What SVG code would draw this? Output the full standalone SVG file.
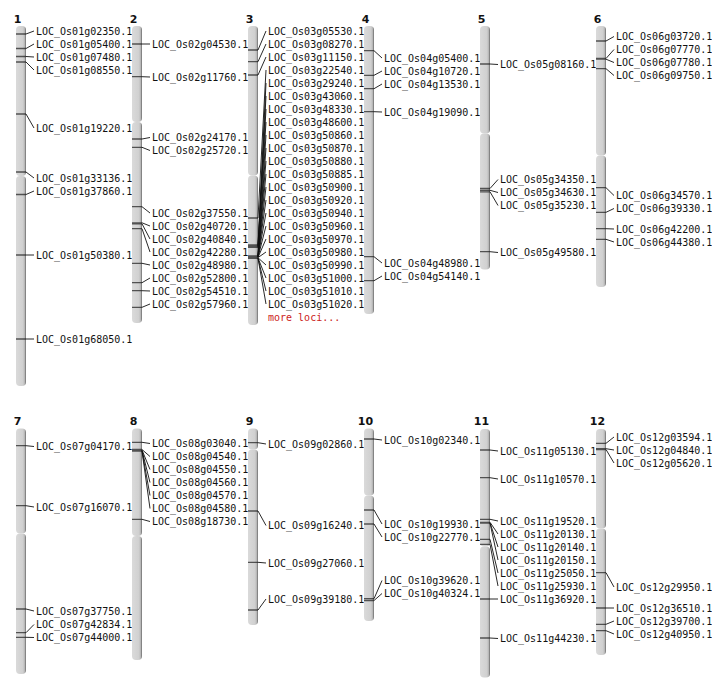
<svg xmlns="http://www.w3.org/2000/svg" width="712" height="700" viewBox="0 0 712 700">
<defs>
<linearGradient id="g" x1="0" y1="0" x2="1" y2="0">
<stop offset="0" stop-color="#dadada"/>
<stop offset="0.7" stop-color="#d0d0d0"/>
<stop offset="0.85" stop-color="#b8b8b8"/>
<stop offset="1" stop-color="#6a6a6a"/>
</linearGradient>
</defs>
<style>
.arm{fill:url(#g)}
.tick{fill:none;stroke:#1a1a1a;stroke-opacity:0.7;stroke-width:1.3}
.conn{fill:none;stroke:#111;stroke-width:0.9}
.lab{font-family:"DejaVu Sans Mono","Liberation Mono",monospace;font-size:10px;fill:#111}
.num{font-family:"DejaVu Sans","Liberation Sans",sans-serif;font-size:11px;font-weight:bold;fill:#111;text-anchor:middle}
.more{font-family:"DejaVu Sans Mono","Liberation Mono",monospace;font-size:10px;fill:#cc2222}
</style>
<rect width="712" height="700" fill="#fff"/>

<g id="chr1">
<rect class="arm" x="16" y="26" width="10" height="150" rx="4"/>
<rect class="arm" x="16" y="176" width="10" height="210" rx="4"/>
<text class="num" x="17.5" y="22.5">1</text>
<path class="tick" d="M16 34H26M16 48.5H26M16 56.5H26M16 62H26M16 114H26M16 172H26M16 194.5H26M16 255H26M16 339H26"/>
<text class="lab" x="36" y="34.6">LOC_Os01g02350.1</text>
<text class="lab" x="36" y="47.6">LOC_Os01g05400.1</text>
<text class="lab" x="36" y="60.6">LOC_Os01g07480.1</text>
<text class="lab" x="36" y="73.6">LOC_Os01g08550.1</text>
<text class="lab" x="36" y="131.6">LOC_Os01g19220.1</text>
<text class="lab" x="36" y="181.6">LOC_Os01g33136.1</text>
<text class="lab" x="36" y="194.6">LOC_Os01g37860.1</text>
<text class="lab" x="36" y="258.6">LOC_Os01g50380.1</text>
<text class="lab" x="36" y="342.6">LOC_Os01g68050.1</text>
</g>

<g id="chr2">
<rect class="arm" x="132" y="26" width="10" height="96" rx="4"/>
<rect class="arm" x="132" y="122" width="10" height="201" rx="4"/>
<text class="num" x="133.5" y="22.5">2</text>
<path class="tick" d="M132 44H142M132 76.7H142M132 139H142M132 147.3H142M132 206.7H142M132 222.8H142M132 223.8H142M132 228.7H142M132 263.3H142M132 282.7H142M132 290.7H142M132 307.3H142"/>
<text class="lab" x="152" y="47.6">LOC_Os02g04530.1</text>
<text class="lab" x="152" y="80.6">LOC_Os02g11760.1</text>
<text class="lab" x="152" y="141.1">LOC_Os02g24170.1</text>
<text class="lab" x="152" y="154.1">LOC_Os02g25720.1</text>
<text class="lab" x="152" y="216.6">LOC_Os02g37550.1</text>
<text class="lab" x="152" y="229.6">LOC_Os02g40720.1</text>
<text class="lab" x="152" y="242.6">LOC_Os02g40840.1</text>
<text class="lab" x="152" y="255.6">LOC_Os02g42280.1</text>
<text class="lab" x="152" y="268.6">LOC_Os02g48980.1</text>
<text class="lab" x="152" y="281.6">LOC_Os02g52800.1</text>
<text class="lab" x="152" y="294.6">LOC_Os02g54510.1</text>
<text class="lab" x="152" y="307.6">LOC_Os02g57960.1</text>
</g>

<g id="chr3">
<rect class="arm" x="248" y="26" width="10" height="149.5" rx="4"/>
<rect class="arm" x="248" y="175.5" width="10" height="149.5" rx="4"/>
<text class="num" x="249.5" y="22.5">3</text>
<path class="tick" d="M248 50H258M248 61.7H258M248 75H258M248 218H258M248 245H258M248 245.8H258M248 246.6H258M248 247.4H258M248 255.8H258M248 256H258M248 256.2H258M248 256.4H258M248 256.6H258M248 256.8H258M248 257H258M248 257.2H258M248 257.4H258M248 257.6H258M248 257.8H258M248 258H258M248 258.2H258M248 258.4H258"/>
<text class="lab" x="268" y="34.6">LOC_Os03g05530.1</text>
<text class="lab" x="268" y="47.6">LOC_Os03g08270.1</text>
<text class="lab" x="268" y="60.6">LOC_Os03g11150.1</text>
<text class="lab" x="268" y="73.6">LOC_Os03g22540.1</text>
<text class="lab" x="268" y="86.6">LOC_Os03g29240.1</text>
<text class="lab" x="268" y="99.6">LOC_Os03g43060.1</text>
<text class="lab" x="268" y="112.6">LOC_Os03g48330.1</text>
<text class="lab" x="268" y="125.6">LOC_Os03g48600.1</text>
<text class="lab" x="268" y="138.6">LOC_Os03g50860.1</text>
<text class="lab" x="268" y="151.6">LOC_Os03g50870.1</text>
<text class="lab" x="268" y="164.6">LOC_Os03g50880.1</text>
<text class="lab" x="268" y="177.6">LOC_Os03g50885.1</text>
<text class="lab" x="268" y="190.6">LOC_Os03g50900.1</text>
<text class="lab" x="268" y="203.6">LOC_Os03g50920.1</text>
<text class="lab" x="268" y="216.6">LOC_Os03g50940.1</text>
<text class="lab" x="268" y="229.6">LOC_Os03g50960.1</text>
<text class="lab" x="268" y="242.6">LOC_Os03g50970.1</text>
<text class="lab" x="268" y="255.6">LOC_Os03g50980.1</text>
<text class="lab" x="268" y="268.6">LOC_Os03g50990.1</text>
<text class="lab" x="268" y="281.6">LOC_Os03g51000.1</text>
<text class="lab" x="268" y="294.6">LOC_Os03g51010.1</text>
<text class="lab" x="268" y="307.6">LOC_Os03g51020.1</text>
<text class="more" x="268" y="320.6">more loci...</text>
</g>

<g id="chr4">
<rect class="arm" x="364" y="26" width="10" height="288" rx="4"/>
<text class="num" x="365.5" y="22.5">4</text>
<path class="tick" d="M364 50.7H374M364 75.3H374M364 88.7H374M364 111.7H374M364 256.7H374M364 280.7H374"/>
<text class="lab" x="384" y="61.6">LOC_Os04g05400.1</text>
<text class="lab" x="384" y="74.6">LOC_Os04g10720.1</text>
<text class="lab" x="384" y="87.6">LOC_Os04g13530.1</text>
<text class="lab" x="384" y="115.6">LOC_Os04g19090.1</text>
<text class="lab" x="384" y="266.6">LOC_Os04g48980.1</text>
<text class="lab" x="384" y="279.6">LOC_Os04g54140.1</text>
</g>

<g id="chr5">
<rect class="arm" x="480" y="26" width="10" height="107.5" rx="4"/>
<rect class="arm" x="480" y="133.5" width="10" height="136" rx="4"/>
<text class="num" x="481.5" y="22.5">5</text>
<path class="tick" d="M480 64H490M480 188.5H490M480 190.3H490M480 191.8H490M480 251.7H490"/>
<text class="lab" x="500" y="68.1">LOC_Os05g08160.1</text>
<text class="lab" x="500" y="183.1">LOC_Os05g34350.1</text>
<text class="lab" x="500" y="196.1">LOC_Os05g34630.1</text>
<text class="lab" x="500" y="209.1">LOC_Os05g35230.1</text>
<text class="lab" x="500" y="256.1">LOC_Os05g49580.1</text>
</g>

<g id="chr6">
<rect class="arm" x="596" y="26" width="10" height="129.5" rx="4"/>
<rect class="arm" x="596" y="155.5" width="10" height="131.5" rx="4"/>
<text class="num" x="597.5" y="22.5">6</text>
<path class="tick" d="M596 41H606M596 58.5H606M596 59.2H606M596 68.7H606M596 187.7H606M596 212.3H606M596 228.7H606M596 239.3H606"/>
<text class="lab" x="616" y="40.1">LOC_Os06g03720.1</text>
<text class="lab" x="616" y="53.1">LOC_Os06g07770.1</text>
<text class="lab" x="616" y="66.1">LOC_Os06g07780.1</text>
<text class="lab" x="616" y="79.1">LOC_Os06g09750.1</text>
<text class="lab" x="616" y="199.1">LOC_Os06g34570.1</text>
<text class="lab" x="616" y="212.1">LOC_Os06g39330.1</text>
<text class="lab" x="616" y="232.6">LOC_Os06g42200.1</text>
<text class="lab" x="616" y="245.6">LOC_Os06g44380.1</text>
</g>

<g id="chr7">
<rect class="arm" x="16" y="428.5" width="10" height="105" rx="4"/>
<rect class="arm" x="16" y="533.5" width="10" height="140.5" rx="4"/>
<text class="num" x="17.5" y="424.5">7</text>
<path class="tick" d="M16 445.7H26M16 505.7H26M16 609H26M16 632.7H26M16 637.3H26"/>
<text class="lab" x="36" y="450.1">LOC_Os07g04170.1</text>
<text class="lab" x="36" y="510.6">LOC_Os07g16070.1</text>
<text class="lab" x="36" y="614.6">LOC_Os07g37750.1</text>
<text class="lab" x="36" y="628.1">LOC_Os07g42834.1</text>
<text class="lab" x="36" y="641.1">LOC_Os07g44000.1</text>
</g>

<g id="chr8">
<rect class="arm" x="132" y="428.5" width="10" height="107.5" rx="4"/>
<rect class="arm" x="132" y="536" width="10" height="124" rx="4"/>
<text class="num" x="133.5" y="424.5">8</text>
<path class="tick" d="M132 442.3H142M132 449.5H142M132 450H142M132 450.4H142M132 450.8H142M132 451.2H142M132 519.3H142"/>
<text class="lab" x="152" y="447.1">LOC_Os08g03040.1</text>
<text class="lab" x="152" y="460.1">LOC_Os08g04540.1</text>
<text class="lab" x="152" y="473.1">LOC_Os08g04550.1</text>
<text class="lab" x="152" y="486.1">LOC_Os08g04560.1</text>
<text class="lab" x="152" y="499.1">LOC_Os08g04570.1</text>
<text class="lab" x="152" y="512.1">LOC_Os08g04580.1</text>
<text class="lab" x="152" y="525.1">LOC_Os08g18730.1</text>
</g>

<g id="chr9">
<rect class="arm" x="248" y="428.5" width="10" height="21" rx="4"/>
<rect class="arm" x="248" y="449.5" width="10" height="175.5" rx="4"/>
<text class="num" x="249.5" y="424.5">9</text>
<path class="tick" d="M248 442.7H258M248 511H258M248 562.3H258M248 610H258"/>
<text class="lab" x="268" y="447.6">LOC_Os09g02860.1</text>
<text class="lab" x="268" y="529.1">LOC_Os09g16240.1</text>
<text class="lab" x="268" y="566.6">LOC_Os09g27060.1</text>
<text class="lab" x="268" y="602.6">LOC_Os09g39180.1</text>
</g>

<g id="chr10">
<rect class="arm" x="364" y="428.5" width="10" height="67" rx="4"/>
<rect class="arm" x="364" y="495.5" width="10" height="125.5" rx="4"/>
<text class="num" x="365.5" y="424.5">10</text>
<path class="tick" d="M364 439H374M364 510H374M364 524H374M364 598.7H374M364 600.5H374"/>
<text class="lab" x="384" y="443.6">LOC_Os10g02340.1</text>
<text class="lab" x="384" y="527.6">LOC_Os10g19930.1</text>
<text class="lab" x="384" y="540.6">LOC_Os10g22770.1</text>
<text class="lab" x="384" y="584.1">LOC_Os10g39620.1</text>
<text class="lab" x="384" y="597.1">LOC_Os10g40324.1</text>
</g>

<g id="chr11">
<rect class="arm" x="480" y="429" width="10" height="117.5" rx="4"/>
<rect class="arm" x="480" y="546.5" width="10" height="131" rx="4"/>
<text class="num" x="481.5" y="424.5">11</text>
<path class="tick" d="M480 450H490M480 477.7H490M480 519.3H490M480 522.3H490M480 522.7H490M480 523.1H490M480 539.3H490M480 544.3H490M480 599H490M480 638H490"/>
<text class="lab" x="500" y="454.6">LOC_Os11g05130.1</text>
<text class="lab" x="500" y="482.6">LOC_Os11g10570.1</text>
<text class="lab" x="500" y="524.6">LOC_Os11g19520.1</text>
<text class="lab" x="500" y="537.6">LOC_Os11g20130.1</text>
<text class="lab" x="500" y="550.6">LOC_Os11g20140.1</text>
<text class="lab" x="500" y="563.6">LOC_Os11g20150.1</text>
<text class="lab" x="500" y="576.6">LOC_Os11g25050.1</text>
<text class="lab" x="500" y="589.6">LOC_Os11g25930.1</text>
<text class="lab" x="500" y="602.6">LOC_Os11g36920.1</text>
<text class="lab" x="500" y="642.1">LOC_Os11g44230.1</text>
</g>

<g id="chr12">
<rect class="arm" x="596" y="429" width="10" height="99.5" rx="4"/>
<rect class="arm" x="596" y="528.5" width="10" height="126.5" rx="4"/>
<text class="num" x="597.5" y="424.5">12</text>
<path class="tick" d="M596 443.3H606M596 448.7H606M596 449.5H606M596 572.7H606M596 608H606M596 624.3H606M596 630.7H606"/>
<text class="lab" x="616" y="440.6">LOC_Os12g03594.1</text>
<text class="lab" x="616" y="453.6">LOC_Os12g04840.1</text>
<text class="lab" x="616" y="466.6">LOC_Os12g05620.1</text>
<text class="lab" x="616" y="590.6">LOC_Os12g29950.1</text>
<text class="lab" x="616" y="611.6">LOC_Os12g36510.1</text>
<text class="lab" x="616" y="624.6">LOC_Os12g39700.1</text>
<text class="lab" x="616" y="637.6">LOC_Os12g40950.1</text>
</g>

<g id="connectors">
<path class="conn" d="M26 34L34 31M26 48.5L34 44M26 56.5L34 57M26 62L34 70M26 114L34 128M26 172L34 178M26 194.5L34 191M26 255L34 255M26 339L34 339"/>
<path class="conn" d="M142 44L150 44M142 76.7L150 77M142 139L150 137.5M142 147.3L150 150.5M142 206.7L150 213M142 222.8L150 226M142 223.8L150 239M142 228.7L150 252M142 263.3L150 265M142 282.7L150 278M142 290.7L150 291M142 307.3L150 304"/>
<path class="conn" d="M258 50L266 31M258 61.7L266 44M258 75L266 57M258 218L266 70M258 245L266 83M258 245.8L266 96M258 246.6L266 109M258 247.4L266 122M258 255.8L266 135M258 256L266 148M258 256.2L266 161M258 256.4L266 174M258 256.6L266 187M258 256.8L266 200M258 257L266 213M258 257.2L266 226M258 257.4L266 239M258 257.6L266 252M258 257.8L266 265M258 258L266 278M258 258.2L266 291M258 258.4L266 304"/>
<path class="conn" d="M374 50.7L382 58M374 75.3L382 71M374 88.7L382 84M374 111.7L382 112M374 256.7L382 263M374 280.7L382 276"/>
<path class="conn" d="M490 64L498 64.5M490 188.5L498 179.5M490 190.3L498 192.5M490 191.8L498 205.5M490 251.7L498 252.5"/>
<path class="conn" d="M606 41L614 36.5M606 58.5L614 49.5M606 59.2L614 62.5M606 68.7L614 75.5M606 187.7L614 195.5M606 212.3L614 208.5M606 228.7L614 229M606 239.3L614 242"/>
<path class="conn" d="M26 445.7L34 446.5M26 505.7L34 507M26 609L34 611M26 632.7L34 624.5M26 637.3L34 637.5"/>
<path class="conn" d="M142 442.3L150 443.5M142 449.5L150 456.5M142 450L150 469.5M142 450.4L150 482.5M142 450.8L150 495.5M142 451.2L150 508.5M142 519.3L150 521.5"/>
<path class="conn" d="M258 442.7L266 444M258 511L266 525.5M258 562.3L266 563M258 610L266 599"/>
<path class="conn" d="M374 439L382 440M374 510L382 524M374 524L382 537M374 598.7L382 580.5M374 600.5L382 593.5"/>
<path class="conn" d="M490 450L498 451M490 477.7L498 479M490 519.3L498 521M490 522.3L498 534M490 522.7L498 547M490 523.1L498 560M490 539.3L498 573M490 544.3L498 586M490 599L498 599M490 638L498 638.5"/>
<path class="conn" d="M606 443.3L614 437M606 448.7L614 450M606 449.5L614 463M606 572.7L614 587M606 608L614 608M606 624.3L614 621M606 630.7L614 634"/>
</g>
</svg>
